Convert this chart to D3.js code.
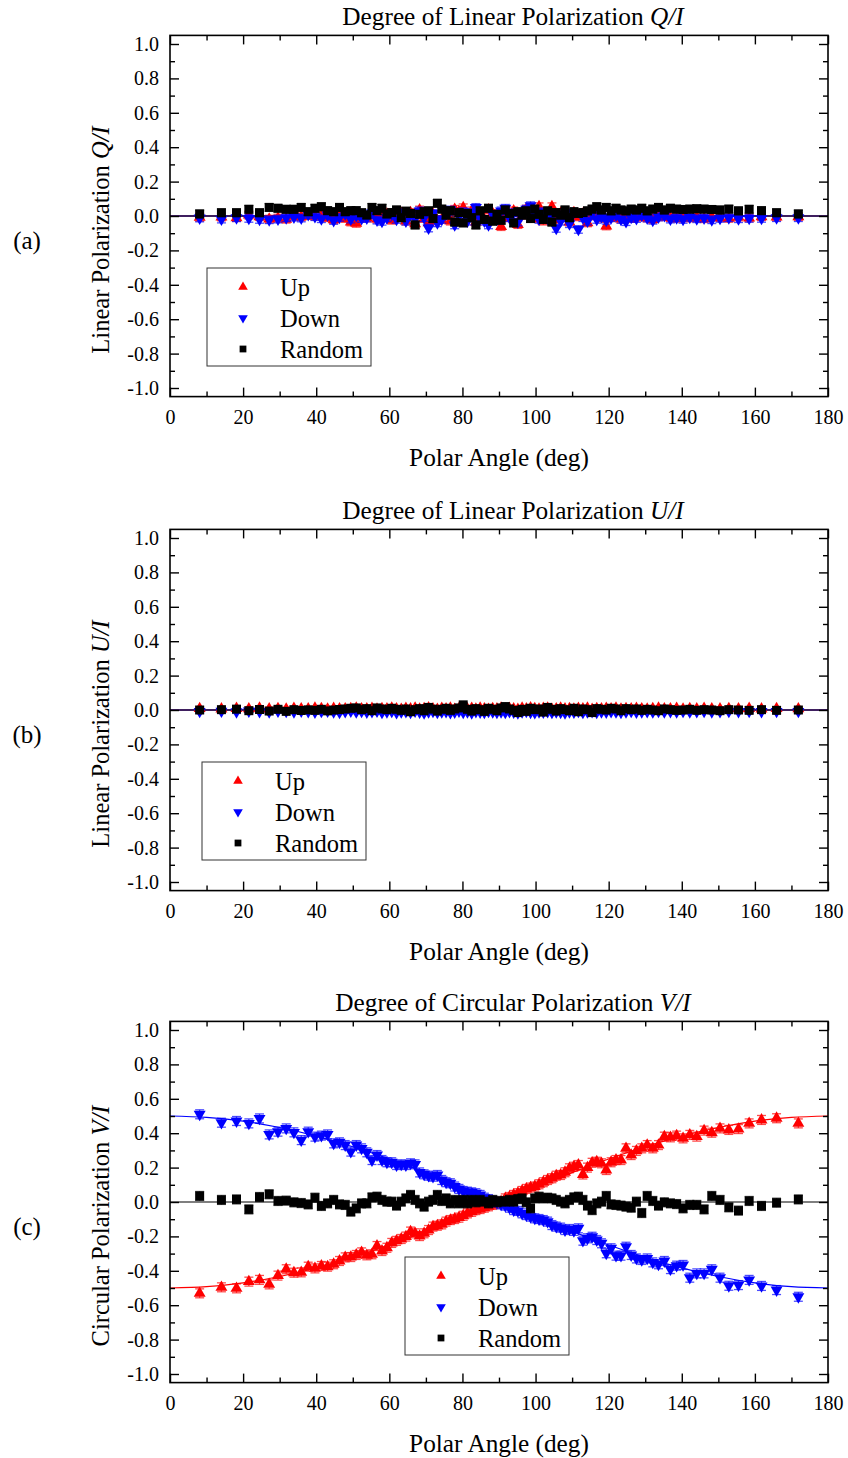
<!DOCTYPE html>
<html>
<head>
<meta charset="utf-8">
<script src="https://cdn.jsdelivr.net/npm/d3@7"></script>
<style>
  body { margin: 0; background: #fff; }
  svg { display: block; }
  text { font-family: "Liberation Serif", "Times New Roman", serif; fill: #000; }
</style>
</head>
<body>
<svg id="fig" width="848" height="1458"></svg>
<script>
// Scattering polar angles (deg) of the measured bins
const polarAngles = [
  8.11, 14.07, 18.19, 21.57, 24.49, 27.13, 29.54, 31.79, 33.90, 35.90,
  37.81, 39.65, 41.41, 43.11, 44.77, 46.37, 47.93, 49.46, 50.95, 52.41,
  53.84, 55.25, 56.63, 57.99, 59.34, 60.66, 61.97, 63.26, 64.53, 65.80,
  67.05, 68.28, 69.51, 70.73, 71.94, 73.14, 74.34, 75.52, 76.70, 77.88,
  79.05, 80.21, 81.37, 82.53, 83.68, 84.84, 85.99, 87.13, 88.28, 89.43,
  90.57, 91.72, 92.87, 94.01, 95.16, 96.32, 97.47, 98.63, 99.79, 100.95,
  102.12, 103.30, 104.48, 105.66, 106.86, 108.06, 109.27, 110.49, 111.72, 112.95,
  114.20, 115.47, 116.74, 118.03, 119.34, 120.66, 122.01, 123.37, 124.75, 126.16,
  127.59, 129.05, 130.54, 132.07, 133.63, 135.23, 136.89, 138.59, 140.35, 142.19,
  144.10, 146.10, 148.21, 150.46, 152.87, 155.51, 158.43, 161.81, 165.93, 171.89
];

// (a) Q/I
const upQ = [
  -0.008, -0.006, -0.010, 0.005, -0.004, -0.018, -0.012, -0.019, 0.000, -0.005,
  0.004, -0.002, 0.003, -0.010, -0.022, 0.006, -0.015, -0.035, -0.043, -0.008,
  -0.012, 0.005, -0.018, -0.006, 0.010, -0.025, -0.010, 0.015, -0.030, 0.020,
  -0.045, 0.035, -0.015, -0.040, 0.010, -0.027, -0.020, 0.005, -0.030, 0.039,
  0.025, 0.048, -0.010, 0.030, -0.035, 0.010, -0.020, 0.035, 0.015, -0.025,
  -0.062, 0.020, -0.010, 0.030, -0.050, 0.005, 0.040, 0.045, -0.015, 0.054,
  -0.030, 0.010, 0.054, -0.020, 0.015, -0.010, -0.035, 0.020, -0.005, 0.010,
  -0.040, 0.000, 0.015, -0.012, -0.058, -0.010, 0.008, -0.018, 0.004, -0.015,
  -0.008, 0.002, -0.012, -0.020, -0.005, 0.006, -0.010, -0.014, -0.002, -0.012,
  -0.008, -0.016, -0.004, -0.010, -0.014, -0.006, -0.012, -0.004, -0.006, -0.004
];
const downQ = [
  -0.012, -0.018, -0.010, -0.014, -0.020, -0.022, -0.018, -0.010, -0.006, -0.012,
  0.008, -0.004, -0.016, 0.006, -0.026, -0.008, 0.012, -0.018, 0.002, -0.015,
  -0.012, 0.018, -0.024, -0.031, -0.010, 0.010, -0.020, 0.020, -0.030, 0.008,
  -0.015, 0.030, -0.010, -0.070, 0.015, -0.040, -0.020, 0.010, 0.035, -0.052,
  0.000, 0.025, -0.030, 0.020, 0.050, -0.015, -0.030, -0.052, 0.010, -0.020,
  0.030, 0.045, -0.010, 0.020, -0.035, 0.015, 0.040, 0.060, 0.010, -0.020,
  0.025, -0.015, 0.005, -0.072, -0.030, 0.010, -0.045, 0.020, -0.078, -0.010,
  -0.030, 0.015, -0.020, -0.005, -0.025, -0.010, 0.005, -0.020, -0.033, -0.008,
  -0.015, 0.004, -0.012, -0.025, -0.006, 0.002, -0.018, -0.010, -0.020, -0.008,
  -0.016, -0.012, -0.022, -0.014, -0.010, -0.016, -0.014, -0.014, -0.010, -0.010
];
const randomQ = [
  0.012, 0.019, 0.019, 0.039, 0.019, 0.050, 0.045, 0.039, 0.039, 0.050,
  0.025, 0.045, 0.054, 0.031, 0.025, 0.050, 0.025, 0.031, 0.031, 0.019,
  0.006, 0.050, 0.031, 0.045, 0.012, 0.020, 0.035, -0.010, 0.028, 0.015,
  -0.052, 0.010, 0.025, 0.030, -0.015, 0.074, 0.040, 0.005, 0.031, -0.035,
  0.020, -0.040, 0.015, -0.010, -0.052, 0.030, -0.020, 0.045, -0.030, 0.010,
  -0.025, 0.035, 0.015, -0.040, 0.025, 0.005, 0.030, -0.015, 0.040, 0.010,
  -0.020, 0.030, -0.035, 0.020, 0.005, 0.035, -0.010, 0.025, 0.015, 0.020,
  0.030, 0.040, 0.054, 0.035, 0.050, 0.030, 0.045, 0.035, 0.030, 0.040,
  0.035, 0.045, 0.030, 0.040, 0.050, 0.035, 0.045, 0.040, 0.038, 0.040,
  0.042, 0.040, 0.038, 0.035, 0.040, 0.030, 0.039, 0.031, 0.019, 0.012
];

// (b) U/I
const upU = [
  0.008, 0.006, 0.009, 0.007, 0.010, 0.006, 0.008, 0.005, 0.009, 0.007,
  0.006, 0.010, 0.008, 0.005, 0.009, 0.007, 0.006, 0.008, 0.010, 0.006,
  0.007, 0.009, 0.005, 0.008, 0.006, 0.010, 0.007, 0.004, 0.009, 0.006,
  0.011, 0.005, 0.008, 0.012, 0.006, 0.003, 0.009, 0.007, 0.010, 0.004,
  0.008, 0.013, 0.006, 0.009, 0.005, 0.010, 0.007, 0.004, 0.008, 0.006,
  0.011, 0.005, 0.009, 0.007, 0.003, 0.010, 0.006, 0.012, 0.008, 0.005,
  0.009, 0.011, 0.004, 0.007, 0.010, 0.006, 0.008, 0.005, 0.009, 0.007,
  0.010, 0.004, 0.008, 0.006, 0.009, 0.007, 0.010, 0.005, 0.008, 0.006,
  0.009, 0.007, 0.005, 0.008, 0.010, 0.006, 0.007, 0.009, 0.005, 0.008,
  0.006, 0.009, 0.007, 0.006, 0.008, 0.007, 0.009, 0.006, 0.008, 0.007
];
const downU = [
  -0.008, -0.007, -0.010, -0.006, -0.009, -0.011, -0.007, -0.008, -0.010, -0.006,
  -0.009, -0.012, -0.008, -0.007, -0.010, -0.013, -0.009, -0.006, -0.011, -0.008,
  -0.012, -0.009, -0.007, -0.014, -0.010, -0.008, -0.015, -0.011, -0.009, -0.013,
  -0.007, -0.012, -0.016, -0.010, -0.008, -0.014, -0.011, -0.009, -0.015, -0.012,
  -0.007, -0.013, -0.010, -0.016, -0.009, -0.012, -0.014, -0.008, -0.011, -0.013,
  -0.010, -0.014, -0.009, -0.012, -0.016, -0.011, -0.008, -0.013, -0.015, -0.010,
  -0.012, -0.009, -0.014, -0.011, -0.013, -0.016, -0.010, -0.012, -0.008, -0.014,
  -0.011, -0.009, -0.013, -0.010, -0.012, -0.009, -0.011, -0.013, -0.010, -0.008,
  -0.012, -0.010, -0.009, -0.011, -0.008, -0.010, -0.009, -0.011, -0.008, -0.010,
  -0.009, -0.008, -0.010, -0.009, -0.008, -0.009, -0.008, -0.009, -0.008, -0.008
];
const randomU = [
  0.000, 0.002, 0.005, -0.004, 0.003, -0.006, 0.004, -0.008, 0.002, -0.003,
  0.001, -0.002, 0.004, -0.005, 0.000, 0.003, 0.006, 0.010, 0.012, 0.002,
  0.008, -0.004, 0.012, 0.006, 0.002, 0.010, 0.004, -0.002, 0.006, -0.010,
  0.002, 0.008, -0.004, 0.015, 0.005, -0.006, 0.004, 0.010, -0.002, 0.006,
  0.012, 0.030, 0.004, -0.006, 0.008, 0.002, -0.008, 0.010, 0.004, -0.004,
  0.012, 0.020, 0.006, -0.002, -0.015, 0.004, -0.008, 0.010, 0.002, 0.006,
  -0.012, 0.015, 0.004, -0.006, 0.008, 0.002, -0.004, 0.010, -0.010, 0.006,
  0.002, -0.015, 0.008, 0.004, 0.000, 0.010, 0.006, -0.004, 0.008, 0.002,
  0.006, -0.002, 0.004, 0.000, -0.004, 0.006, 0.002, -0.002, 0.000, 0.004,
  -0.002, 0.002, 0.000, -0.004, 0.002, 0.000, -0.002, 0.002, -0.002, 0.000
];

// (c) V/I
const upV = [
  -0.531, -0.496, -0.502, -0.463, -0.453, -0.479, -0.428, -0.391, -0.411, -0.409,
  -0.376, -0.386, -0.372, -0.376, -0.362, -0.343, -0.322, -0.320, -0.308, -0.293,
  -0.310, -0.304, -0.256, -0.285, -0.266, -0.238, -0.226, -0.215, -0.201, -0.172,
  -0.182, -0.198, -0.182, -0.163, -0.143, -0.138, -0.130, -0.114, -0.105, -0.099,
  -0.091, -0.080, -0.066, -0.057, -0.047, -0.041, -0.033, -0.025, -0.017, -0.010,
  0.002, 0.021, 0.029, 0.041, 0.051, 0.064, 0.076, 0.084, 0.090, 0.103,
  0.115, 0.128, 0.138, 0.153, 0.157, 0.173, 0.196, 0.205, 0.215, 0.160,
  0.200, 0.228, 0.234, 0.225, 0.186, 0.231, 0.244, 0.244, 0.312, 0.273,
  0.297, 0.312, 0.331, 0.312, 0.331, 0.380, 0.376, 0.386, 0.370, 0.390,
  0.380, 0.415, 0.403, 0.428, 0.419, 0.424, 0.457, 0.477, 0.487, 0.457
];
const downV = [
  0.510, 0.461, 0.471, 0.457, 0.486, 0.393, 0.409, 0.428, 0.405, 0.360,
  0.409, 0.380, 0.386, 0.393, 0.341, 0.347, 0.331, 0.293, 0.331, 0.312,
  0.289, 0.244, 0.273, 0.244, 0.231, 0.231, 0.215, 0.219, 0.215, 0.225,
  0.219, 0.172, 0.161, 0.153, 0.147, 0.157, 0.128, 0.115, 0.109, 0.090,
  0.076, 0.064, 0.060, 0.056, 0.051, 0.041, 0.025, 0.017, 0.006, -0.002,
  -0.014, -0.021, -0.033, -0.047, -0.052, -0.066, -0.076, -0.085, -0.095, -0.099,
  -0.105, -0.114, -0.134, -0.143, -0.149, -0.163, -0.157, -0.168, -0.153, -0.225,
  -0.211, -0.202, -0.221, -0.240, -0.298, -0.269, -0.312, -0.312, -0.260, -0.308,
  -0.328, -0.337, -0.328, -0.351, -0.362, -0.343, -0.390, -0.370, -0.366, -0.440,
  -0.415, -0.415, -0.391, -0.440, -0.487, -0.483, -0.453, -0.488, -0.512, -0.551
];
const randomV = [
  0.035, 0.012, 0.015, -0.043, 0.029, 0.045, 0.006, 0.008, -0.002, -0.006,
  -0.014, 0.025, -0.023, -0.008, 0.012, -0.014, -0.017, -0.056, -0.037, -0.008,
  -0.008, 0.027, 0.031, 0.012, 0.002, 0.002, -0.021, 0.002, 0.021, 0.041,
  0.012, -0.008, -0.027, 0.002, 0.012, 0.041, 0.006, 0.021, -0.008, 0.012,
  -0.008, 0.012, -0.008, 0.012, -0.002, 0.012, 0.002, -0.008, 0.012, -0.002,
  0.006, 0.002, 0.012, 0.002, 0.017, 0.021, -0.002, -0.037, 0.021, 0.031,
  0.021, 0.025, 0.021, 0.012, 0.002, -0.008, 0.012, 0.027, 0.031, 0.012,
  -0.021, -0.047, -0.008, 0.002, 0.035, -0.014, -0.017, -0.021, -0.027, -0.033,
  0.002, -0.064, 0.035, 0.006, -0.021, -0.002, -0.008, -0.012, -0.037, -0.017,
  -0.017, -0.043, 0.035, 0.012, -0.031, -0.050, 0.006, -0.023, -0.004, 0.015
];

// Uncertainty half-widths for each quantity
const errQ = 0.022;
const errU = 0.010;
const errV = 0.026;

// Fitted curves, sampled every 10 deg
const fitAngles = [0, 10, 20, 30, 40, 50, 60, 70, 80, 90, 100, 110, 120, 130, 140, 150, 160, 170, 180];
const fitUpV = [-0.500, -0.492, -0.470, -0.433, -0.383, -0.321, -0.250, -0.171, -0.087, 0.000,
                0.087, 0.171, 0.250, 0.321, 0.383, 0.433, 0.470, 0.492, 0.500];
const fitDownV = [0.500, 0.492, 0.470, 0.433, 0.383, 0.321, 0.250, 0.171, 0.087, 0.000,
                  -0.087, -0.171, -0.250, -0.321, -0.383, -0.433, -0.470, -0.492, -0.500];
const fitZero = [0, 0, 0, 0, 0, 0, 0, 0, 0, 0, 0, 0, 0, 0, 0, 0, 0, 0, 0];

// Axis ticks
const xTicks = [0, 20, 40, 60, 80, 100, 120, 140, 160, 180];
const xMinorTicks = [10, 30, 50, 70, 90, 110, 130, 150, 170];
const yTicks = [-1.0, -0.8, -0.6, -0.4, -0.2, 0.0, 0.2, 0.4, 0.6, 0.8, 1.0];
const yMinorTicks = [-0.9, -0.7, -0.5, -0.3, -0.1, 0.1, 0.3, 0.5, 0.7, 0.9];

const seriesNames = ["Up", "Down", "Random"];
const seriesColors = { Up: "#ff0000", Down: "#0000ff", Random: "#000000" };

const panels = [
  { letter: "(a)", title: ["Degree of Linear Polarization ", "Q/I"], ylabel: ["Linear Polarization ", "Q/I"],
    data: { Up: upQ, Down: downQ, Random: randomQ }, err: errQ,
    fits: [{ v: fitZero, c: "#ff0000" }, { v: fitZero, c: "#0000ff" }, { v: fitZero, c: "#000000" }],
    top: 35.4, legend: [207, 268] },
  { letter: "(b)", title: ["Degree of Linear Polarization ", "U/I"], ylabel: ["Linear Polarization ", "U/I"],
    data: { Up: upU, Down: downU, Random: randomU }, err: errU,
    fits: [{ v: fitZero, c: "#ff0000" }, { v: fitZero, c: "#0000ff" }, { v: fitZero, c: "#000000" }],
    top: 529.4, legend: [202, 762] },
  { letter: "(c)", title: ["Degree of Circular Polarization ", "V/I"], ylabel: ["Circular Polarization ", "V/I"],
    data: { Up: upV, Down: downV, Random: randomV }, err: errV,
    fits: [{ v: fitUpV, c: "#ff0000" }, { v: fitDownV, c: "#0000ff" }, { v: fitZero, c: "#000000" }],
    top: 1021.4, legend: [405, 1257] }
];

const svg = d3.select("#fig");
const plotW = 658, plotH = 361.2, left = 170;

const x = d3.scaleLinear().domain([0, 180]).range([left, left + plotW]);

const symbolFor = {
  Up: d3.symbol().type(d3.symbolTriangle),
  Down: d3.symbol().type(d3.symbolTriangle),
  Random: d3.symbol().type(d3.symbolSquare)
};

function marker(sel, name, size) {
  sel.append("path")
    .attr("d", symbolFor[name].size(size)())
    .attr("fill", seriesColors[name])
    .attr("transform", name === "Down" ? "rotate(180)" : null);
}

panels.forEach(p => {
  const g = svg.append("g");
  const y = d3.scaleLinear().domain([-1.05, 1.05]).range([p.top + plotH, p.top]);
  const bottom = p.top + plotH;

  // Title
  const t = g.append("text")
    .attr("x", 513).attr("y", p.top - 10)
    .attr("text-anchor", "middle").attr("font-size", 25.3);
  t.append("tspan").text(p.title[0]);
  t.append("tspan").attr("font-style", "italic").text(p.title[1]);

  // Fits (under the data)
  const line = d3.line().x((d, i) => x(fitAngles[i])).y(d => y(d)).curve(d3.curveNatural);
  p.fits.forEach(f => {
    g.append("path").attr("d", line(f.v))
      .attr("fill", "none").attr("stroke", f.c).attr("stroke-width", 1.2);
  });

  // Data with error bars
  seriesNames.forEach(name => {
    const vals = p.data[name];
    const col = seriesColors[name];
    const sg = g.append("g");
    const eb = sg.append("g").attr("stroke", col).attr("stroke-opacity", 0.7).attr("stroke-width", 1.3);
    vals.forEach((v, i) => {
      const cx = x(polarAngles[i]);
      const y0 = y(v - p.err), y1 = y(v + p.err);
      eb.append("line").attr("x1", cx).attr("x2", cx).attr("y1", y0).attr("y2", y1);
      eb.append("line").attr("x1", cx - 4.5).attr("x2", cx + 4.5).attr("y1", y0).attr("y2", y0);
      eb.append("line").attr("x1", cx - 4.5).attr("x2", cx + 4.5).attr("y1", y1).attr("y2", y1);
    });
    vals.forEach((v, i) => {
      const m = sg.append("g").attr("transform", `translate(${x(polarAngles[i])},${y(v)})`);
      marker(m, name, name === "Random" ? 81 : 62);
    });
  });

  // Axes: ticks point inward on all four sides
  const fmtY = d => d.toFixed(1);
  g.append("g").attr("transform", `translate(${left},0)`)
    .call(d3.axisLeft(y).tickValues(yTicks).tickSize(-9).tickPadding(11).tickFormat(fmtY));
  g.append("g").attr("transform", `translate(${left},0)`)
    .call(d3.axisLeft(y).tickValues(yMinorTicks).tickSize(-5).tickFormat(""));
  g.append("g").attr("transform", `translate(${left + plotW},0)`)
    .call(d3.axisRight(y).tickValues(yTicks).tickSize(-9).tickFormat(""));
  g.append("g").attr("transform", `translate(${left + plotW},0)`)
    .call(d3.axisRight(y).tickValues(yMinorTicks).tickSize(-5).tickFormat(""));
  g.append("g").attr("transform", `translate(0,${bottom})`)
    .call(d3.axisBottom(x).tickValues(xTicks).tickSize(-9).tickPadding(13).tickFormat(d3.format("d")));
  g.append("g").attr("transform", `translate(0,${bottom})`)
    .call(d3.axisBottom(x).tickValues(xMinorTicks).tickSize(-5).tickFormat(""));
  g.append("g").attr("transform", `translate(0,${p.top})`)
    .call(d3.axisTop(x).tickValues(xTicks).tickSize(-9).tickFormat(""));
  g.append("g").attr("transform", `translate(0,${p.top})`)
    .call(d3.axisTop(x).tickValues(xMinorTicks).tickSize(-5).tickFormat(""));
  g.selectAll(".domain").remove();
  g.selectAll(".tick line").attr("stroke", "#000").attr("stroke-width", 1.4);
  g.selectAll(".tick text").attr("font-size", 20)
    .attr("font-family", "\"Liberation Serif\", \"Times New Roman\", serif").attr("fill", "#000");

  g.append("rect").attr("x", left).attr("y", p.top).attr("width", plotW).attr("height", plotH)
    .attr("fill", "none").attr("stroke", "#000").attr("stroke-width", 1.6);

  // Axis titles
  g.append("text").attr("x", 499).attr("y", bottom + 69)
    .attr("text-anchor", "middle").attr("font-size", 25.3).text("Polar Angle (deg)");
  const yl = g.append("text")
    .attr("transform", `translate(100,${y(0) + 24}) rotate(-90)`)
    .attr("dy", "0.35em").attr("text-anchor", "middle").attr("font-size", 24.5);
  yl.append("tspan").text(p.ylabel[0]);
  yl.append("tspan").attr("font-style", "italic").text(p.ylabel[1]);

  // Panel letter
  g.append("text").attr("x", 27).attr("y", y(0) + 24).attr("dy", "0.35em")
    .attr("text-anchor", "middle").attr("font-size", 25).text(p.letter);

  // Legend
  const [lx, ly] = p.legend;
  const lg = g.append("g").attr("transform", `translate(${lx},${ly})`);
  lg.append("rect").attr("width", 164).attr("height", 98)
    .attr("fill", "#fff").attr("stroke", "#333").attr("stroke-width", 1);
  seriesNames.forEach((name, k) => {
    const row = lg.append("g").attr("transform", `translate(0,${19 + 31 * k})`);
    const m = row.append("g").attr("transform", "translate(36,0)");
    marker(m, name, name === "Random" ? 46 : 40);
    row.append("text").attr("x", 73).attr("dy", "0.35em").attr("font-size", 24.5).text(name);
  });
});
</script>
</body>
</html>
